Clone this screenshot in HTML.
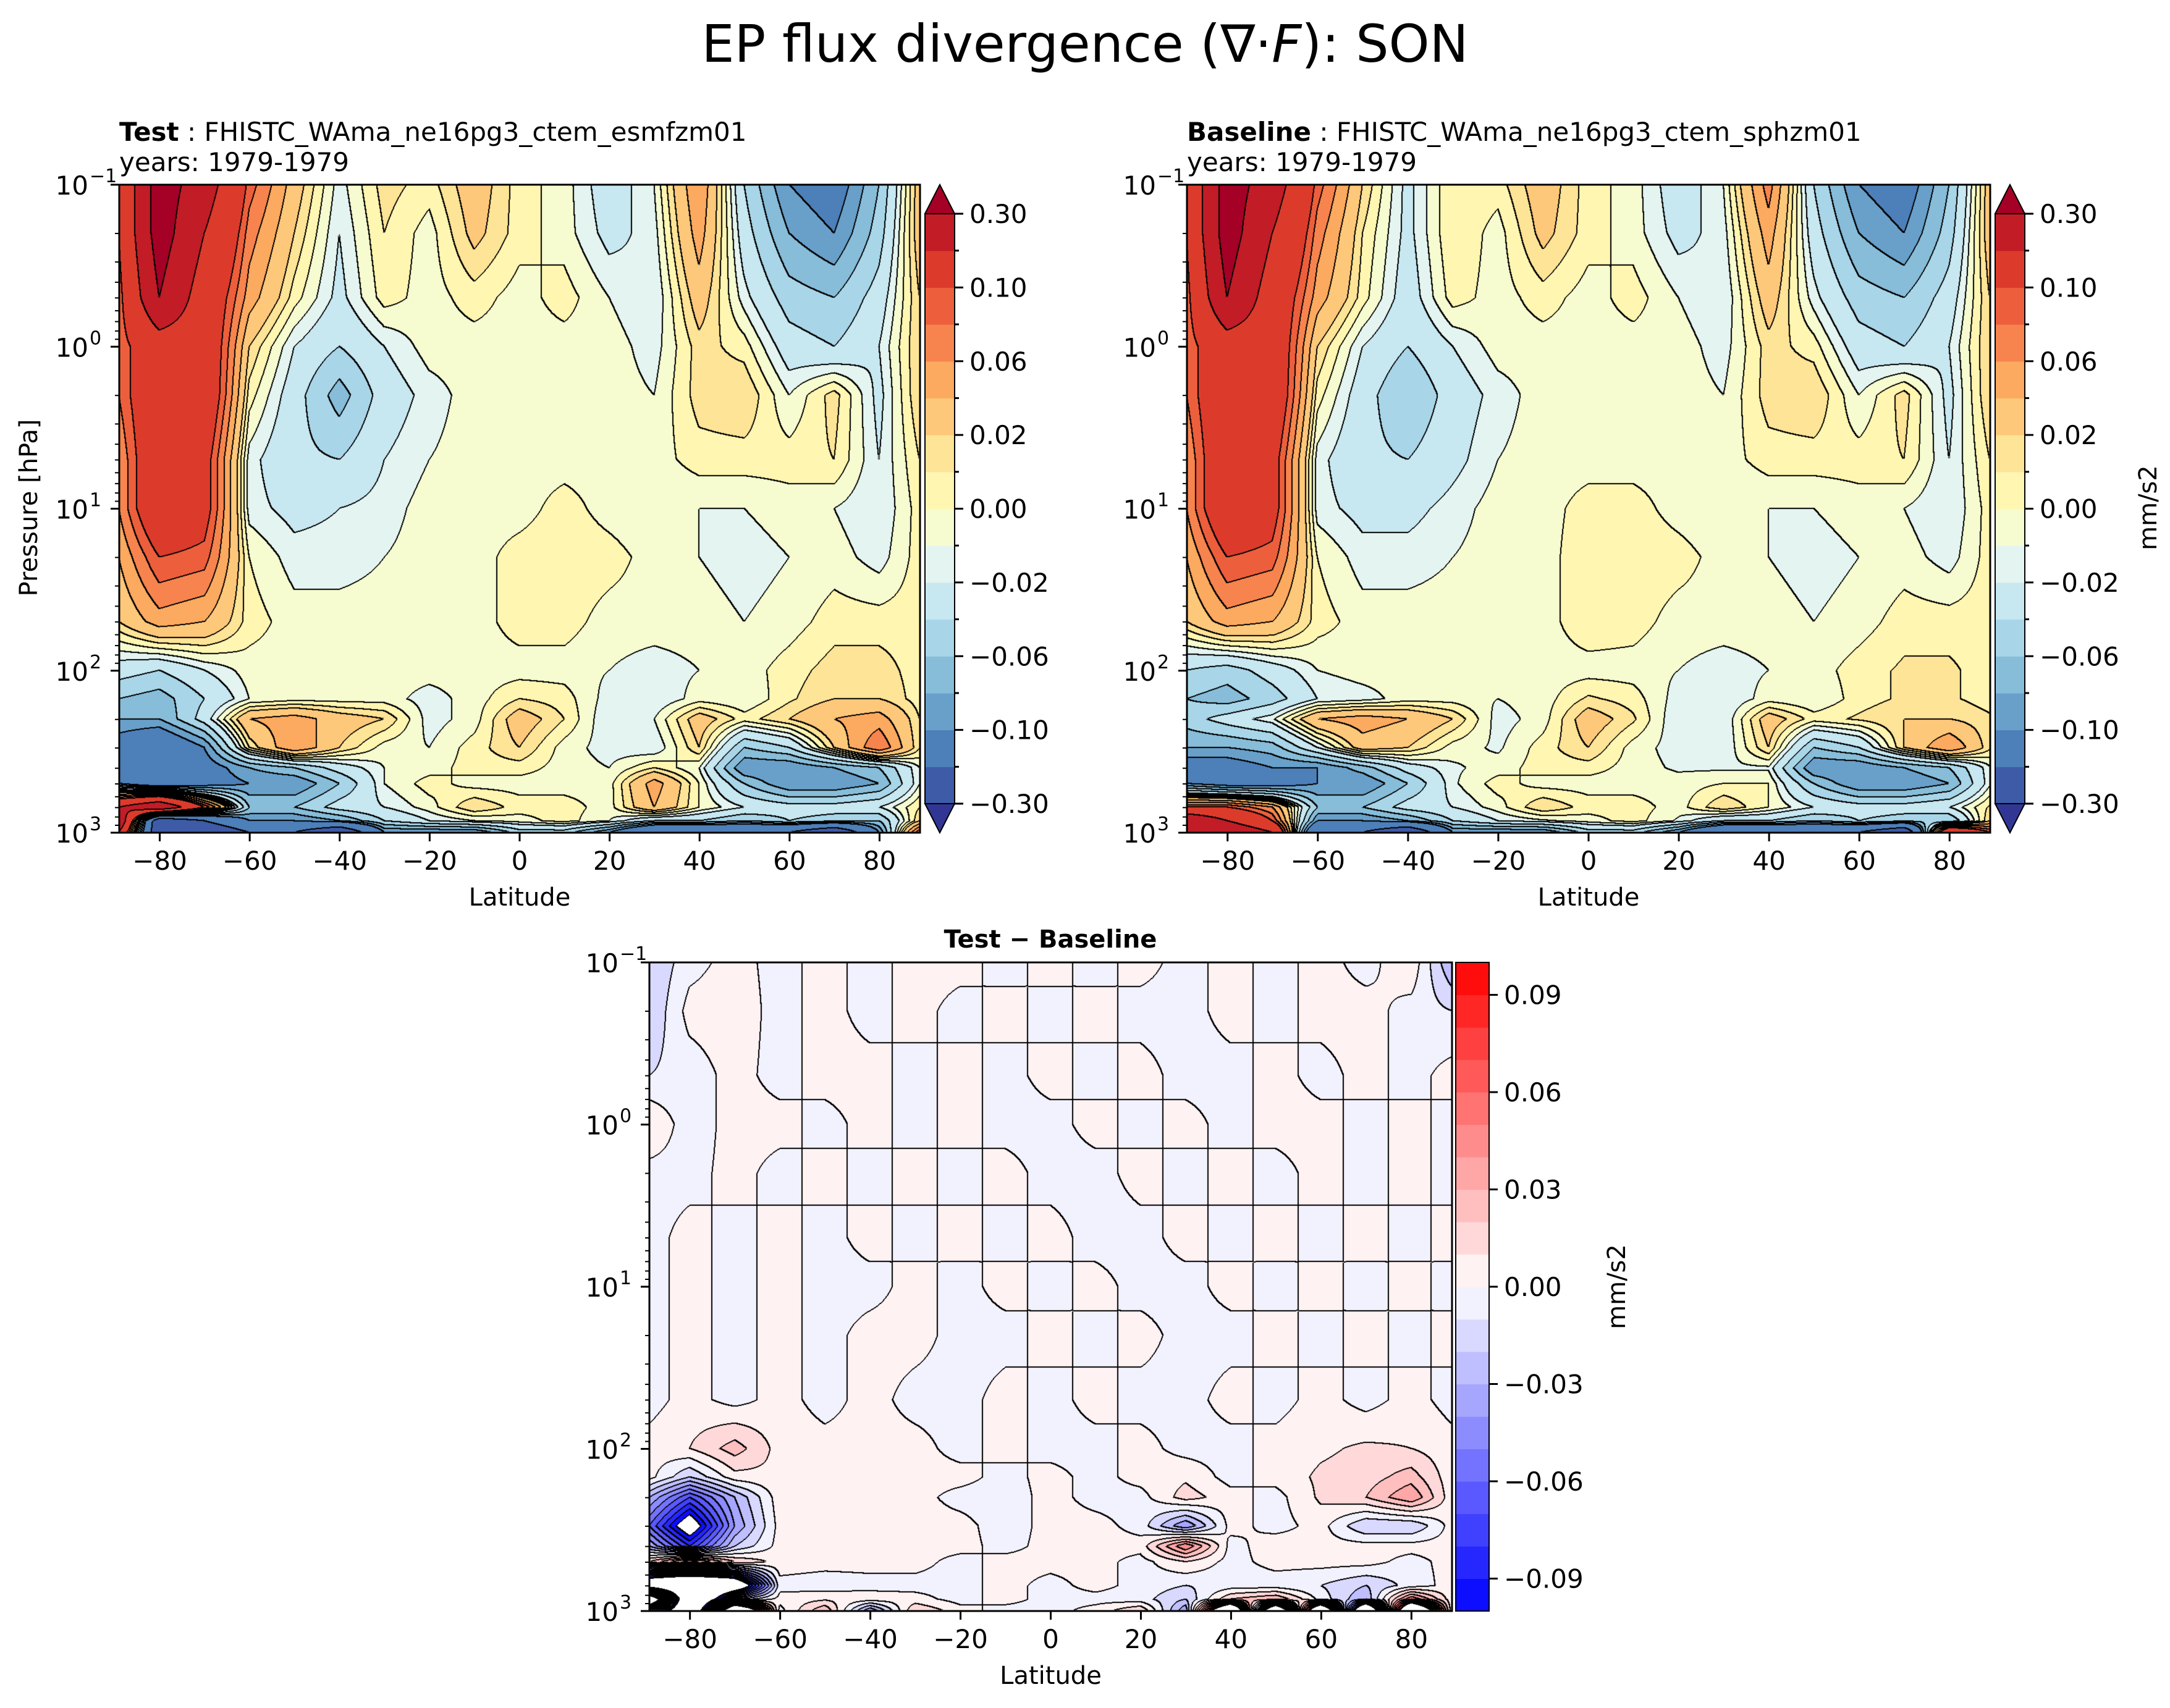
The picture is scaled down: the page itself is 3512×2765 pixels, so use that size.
<!DOCTYPE html>
<html><head><meta charset="utf-8">
<style>
html,body{margin:0;padding:0;background:#fff;}
#wrap{position:relative;width:3512px;height:2765px;overflow:hidden;font-family:"DejaVu Sans","Liberation Sans",sans-serif;}
canvas{position:absolute;}
svg{position:absolute;left:0;top:0;}
</style></head>
<body>
<div id="wrap">
<canvas id="cTest" style="left:193px;top:299px" width="1296" height="1049"></canvas>
<canvas id="cBase" style="left:1921px;top:299px" width="1300" height="1049"></canvas>
<canvas id="cDiff" style="left:1051px;top:1558px" width="1299" height="1050"></canvas>
<svg id="ov" width="3512" height="2765" font-family="DejaVu Sans, Liberation Sans, sans-serif">
<text x="1756" y="100" font-size="84" text-anchor="middle">EP flux divergence (∇·<tspan font-style="italic">F</tspan>): SON</text>
<text x="193" y="228" font-size="42"><tspan font-weight="bold">Test</tspan> : FHISTC_WAma_ne16pg3_ctem_esmfzm01</text>
<text x="193" y="277" font-size="42">years: 1979-1979</text>
<text x="1921" y="228" font-size="42"><tspan font-weight="bold">Baseline</tspan> : FHISTC_WAma_ne16pg3_ctem_sphzm01</text>
<text x="1921" y="277" font-size="42">years: 1979-1979</text>
<text x="1700" y="1534" font-size="40" font-weight="bold" text-anchor="middle">Test − Baseline</text>
<text transform="translate(60,822) rotate(-90)" font-size="40" text-anchor="middle">Pressure [hPa]</text>
<text transform="translate(3490,822) rotate(-90)" font-size="40" text-anchor="middle">mm/s2</text>
<text transform="translate(2630,2083) rotate(-90)" font-size="40" text-anchor="middle">mm/s2</text>
</svg>
</div>
<script>
// ---------------- data ----------------
const lats = [-89,-80,-70,-60,-50,-40,-30,-20,-10,0,10,20,30,40,50,60,70,80,89];
const pressures = [0.1,0.2,0.5,1,2,5,10,20,50,100,150,200,300,400,500,700,850,1000];
const levelsTop = [-0.3,-0.2,-0.1,-0.08,-0.06,-0.04,-0.02,-0.01,0,0.01,0.02,0.04,0.06,0.08,0.1,0.2,0.3];
const levelsDiff = [-0.1,-0.09,-0.08,-0.07,-0.06,-0.05,-0.04,-0.03,-0.02,-0.01,0,0.01,0.02,0.03,0.04,0.05,0.06,0.07,0.08,0.09,0.1];
const cbTopLabels = ["0.30","0.10","0.06","0.02","0.00","−0.02","−0.06","−0.10","−0.30"];
const cbDiffTicks = [0.09,0.06,0.03,0,-0.03,-0.06,-0.09];
const cbDiffLabels = ["0.09","0.06","0.03","0.00","−0.03","−0.06","−0.09"];
const latTicks = [-80,-60,-40,-20,0,20,40,60,80];

const testField = [
[0.1,0.35,0.25,0.09,0.03,-0.015,0.015,0.005,0.03,0.005,-0.005,-0.03,-0.01,0.06,-0.04,-0.1,-0.12,-0.06,0.03],
[0.1,0.35,0.2,0.07,0.02,-0.02,0.01,-0.005,0.025,0.005,-0.005,-0.025,-0.015,0.05,-0.03,-0.08,-0.1,-0.05,0.03],
[0.08,0.3,0.15,0.05,0.005,-0.025,0.005,-0.005,0.005,-0.005,0.005,-0.01,-0.02,0.03,-0.015,-0.05,-0.06,-0.03,0.02],
[0.08,0.15,0.15,0.02,-0.02,-0.04,-0.02,-0.005,-0.005,-0.005,-0.005,-0.005,-0.015,0.015,0.005,-0.03,-0.04,-0.02,0.02],
[0.08,0.15,0.15,0.005,-0.03,-0.07,-0.03,-0.015,-0.005,-0.005,-0.005,-0.005,-0.01,0.015,0.02,-0.01,0.015,-0.025,0.02],
[0.06,0.15,0.12,-0.015,-0.035,-0.04,-0.02,-0.01,-0.005,-0.005,-0.005,-0.005,-0.005,0.005,0.005,0.005,0.01,-0.02,0.01],
[0.06,0.15,0.12,-0.015,-0.025,-0.02,-0.015,-0.005,-0.005,-0.005,0.005,-0.005,-0.01,-0.01,-0.01,-0.005,-0.01,-0.02,0.005],
[0.04,0.1,0.09,0.0,-0.015,-0.015,-0.01,-0.005,-0.005,0.005,0.008,0.005,-0.005,-0.01,-0.015,-0.01,-0.005,-0.015,0.005],
[0.02,0.05,0.04,0.005,-0.005,-0.005,-0.005,-0.005,-0.005,0.005,0.005,-0.005,-0.005,-0.005,-0.01,-0.005,0.005,0.005,0.005],
[-0.03,-0.04,-0.02,-0.005,-0.005,-0.005,-0.005,-0.005,-0.005,-0.005,-0.005,-0.01,-0.015,-0.01,-0.005,0.005,0.015,0.015,0.005],
[-0.06,-0.07,-0.04,-0.01,-0.005,-0.005,-0.005,-0.015,-0.005,0.01,0.005,-0.015,-0.02,-0.005,-0.01,0.008,0.02,0.02,0.005],
[-0.08,-0.08,-0.03,0.04,0.05,0.03,0.02,-0.015,-0.005,0.03,0.01,-0.02,-0.01,0.03,0.005,0.02,0.04,0.05,0.01],
[-0.12,-0.15,-0.1,0.01,0.06,0.02,-0.005,-0.01,0.005,0.02,-0.005,-0.015,-0.02,0.02,-0.06,-0.04,0.02,0.08,0.01],
[-0.15,-0.2,-0.12,-0.08,-0.06,-0.03,-0.01,-0.005,0.005,0.005,-0.005,-0.01,0.01,-0.01,-0.1,-0.1,-0.08,-0.06,-0.01],
[-0.1,-0.15,-0.12,-0.1,-0.1,-0.06,-0.01,0.005,-0.005,-0.005,-0.005,-0.005,0.05,0.0,-0.06,-0.1,-0.1,-0.08,-0.01],
[0.2,0.3,0.1,-0.06,-0.06,-0.03,-0.02,-0.005,0.02,0.005,0.005,-0.005,0.04,0.0,-0.02,-0.03,-0.03,-0.02,0.01],
[0.3,-0.3,-0.2,-0.1,-0.1,-0.08,-0.04,-0.02,-0.01,-0.005,0.005,-0.01,-0.04,-0.04,-0.06,-0.04,-0.05,-0.06,0.02],
[0.2,-0.3,-0.3,-0.2,-0.2,-0.3,-0.1,-0.1,-0.1,-0.05,-0.05,-0.1,-0.2,-0.2,-0.2,-0.2,-0.3,-0.1,0.1]
];
const baseField = [
[0.1,0.35,0.25,0.09,0.02,-0.025,0.01,0.005,0.03,0.005,-0.005,-0.03,-0.01,0.07,-0.04,-0.1,-0.12,-0.06,0.03],
[0.1,0.35,0.2,0.07,0.01,-0.025,0.01,-0.005,0.025,0.005,-0.005,-0.025,-0.015,0.05,-0.03,-0.08,-0.1,-0.05,0.03],
[0.08,0.3,0.15,0.05,0.005,-0.03,0.005,-0.005,0.005,-0.005,0.005,-0.01,-0.02,0.03,-0.015,-0.05,-0.06,-0.03,0.02],
[0.08,0.15,0.15,0.02,-0.02,-0.04,-0.02,-0.005,-0.005,-0.005,-0.005,-0.005,-0.015,0.015,0.005,-0.03,-0.04,-0.02,0.02],
[0.08,0.15,0.15,0.005,-0.03,-0.06,-0.03,-0.015,-0.005,-0.005,-0.005,-0.005,-0.01,0.015,0.02,-0.01,0.015,-0.025,0.02],
[0.06,0.15,0.12,-0.015,-0.035,-0.04,-0.025,-0.01,-0.005,-0.005,-0.005,-0.005,-0.005,0.005,0.005,0.005,0.01,-0.02,0.01],
[0.06,0.15,0.12,-0.015,-0.025,-0.025,-0.015,-0.005,-0.005,0.005,0.005,-0.005,-0.01,-0.01,-0.01,-0.005,-0.01,-0.02,0.005],
[0.04,0.1,0.09,0.0,-0.015,-0.015,-0.01,-0.005,-0.005,0.008,0.008,0.005,-0.005,-0.01,-0.015,-0.01,-0.005,-0.015,0.005],
[0.02,0.05,0.04,0.005,-0.005,-0.005,-0.005,-0.005,-0.005,0.008,0.005,-0.005,-0.005,-0.005,-0.01,-0.005,0.005,0.005,0.005],
[-0.04,-0.05,-0.03,-0.01,-0.005,-0.005,-0.005,-0.005,-0.005,-0.005,-0.005,-0.01,-0.015,-0.01,-0.005,0.005,0.012,0.012,0.005],
[-0.06,-0.07,-0.05,-0.02,-0.015,-0.005,-0.005,-0.01,-0.005,0.012,0.005,-0.015,-0.02,-0.005,-0.01,0.005,0.012,0.012,0.005],
[-0.05,-0.03,-0.012,0.04,0.05,0.04,0.02,-0.015,-0.005,0.03,0.012,-0.02,-0.02,0.03,0.005,0.012,0.02,0.02,0.012],
[-0.08,-0.08,-0.07,-0.02,0.03,0.02,-0.005,-0.012,0.005,0.02,-0.005,-0.015,-0.02,0.02,-0.06,-0.04,0.02,0.06,0.012],
[-0.12,-0.12,-0.1,-0.1,-0.07,-0.03,-0.012,-0.005,0.005,0.005,-0.005,-0.012,-0.012,-0.012,-0.1,-0.1,-0.08,-0.06,-0.012],
[-0.1,-0.12,-0.12,-0.1,-0.1,-0.06,-0.012,0.005,-0.005,-0.005,-0.005,-0.005,0.0,0.0,-0.06,-0.1,-0.1,-0.08,-0.012],
[0.1,0.1,0.06,-0.06,-0.06,-0.03,-0.02,-0.005,0.02,0.005,0.005,-0.005,0.02,0.0,-0.02,-0.03,-0.03,-0.02,0.012],
[0.3,0.2,0.1,-0.1,-0.1,-0.08,-0.04,-0.02,-0.012,-0.005,0.005,-0.012,-0.04,-0.04,-0.06,-0.04,-0.05,-0.06,0.02],
[0.2,0.3,0.2,-0.2,-0.2,-0.3,-0.1,-0.1,-0.1,-0.05,-0.05,-0.1,-0.2,-0.2,-0.2,-0.2,-0.3,0.2,0.1]
];
const diffField = [
[-0.02,-0.004,0.004,-0.004,0.004,-0.004,0.004,0.004,-0.004,0.004,-0.004,0.004,-0.004,0.004,-0.004,0.004,-0.004,0.008,-0.03],
[-0.02,0.004,0.006,-0.004,0.004,-0.004,0.004,-0.004,0.004,-0.004,0.004,-0.004,-0.004,0.004,-0.004,0.004,0.004,-0.004,-0.01],
[-0.01,-0.006,0.004,-0.004,0.004,0.004,-0.004,0.004,-0.004,0.004,-0.004,0.004,-0.004,-0.004,0.004,-0.004,0.004,-0.004,0.004],
[0.01,-0.006,0.004,0.004,-0.004,0.004,-0.004,0.004,-0.004,-0.004,0.004,-0.004,0.004,-0.004,0.004,0.004,-0.004,0.004,-0.004],
[-0.004,-0.004,0.004,-0.004,0.004,-0.004,0.004,-0.004,0.004,-0.004,-0.004,0.004,-0.004,0.004,-0.004,0.004,-0.004,0.004,-0.004],
[-0.004,0.004,-0.004,0.004,-0.004,0.004,-0.004,0.004,-0.004,0.004,-0.004,-0.004,0.004,-0.004,0.004,-0.004,0.004,-0.004,0.004],
[-0.004,0.004,-0.004,0.004,-0.004,-0.004,0.004,-0.004,0.004,-0.004,0.004,-0.004,-0.004,0.004,-0.004,0.004,-0.004,0.004,-0.004],
[-0.004,0.004,-0.004,0.004,-0.004,0.004,0.004,-0.004,-0.004,0.004,-0.004,0.004,-0.004,-0.004,0.004,-0.004,0.004,-0.004,0.004],
[-0.004,0.004,-0.004,0.004,-0.004,0.004,-0.004,-0.004,0.004,-0.004,0.004,-0.004,-0.004,0.004,-0.004,0.004,-0.004,0.004,-0.004],
[0.004,0.01,0.025,0.006,0.004,0.004,0.004,-0.004,0.004,-0.004,-0.004,0.004,-0.004,-0.004,0.004,0.008,0.012,0.01,0.004],
[0.004,-0.02,0.006,0.008,0.006,0.004,0.004,0.004,-0.004,0.004,-0.004,0.004,0.008,-0.004,0.004,0.012,0.015,0.025,0.004],
[-0.03,-0.07,-0.03,0.006,0.01,0.006,0.004,-0.004,-0.006,0.004,-0.004,-0.004,0.015,0.004,-0.004,0.012,0.02,0.04,0.004],
[-0.06,-0.12,-0.04,0.004,0.006,0.004,0.004,0.004,-0.006,0.004,0.004,-0.004,-0.04,0.004,-0.004,0.004,-0.02,-0.02,0.004],
[-0.03,-0.08,-0.02,0.004,0.004,0.004,0.004,0.004,-0.004,0.004,0.004,0.004,0.05,-0.004,0.006,0.004,0.004,0.004,0.004],
[0.02,0.06,0.02,0.006,0.004,0.004,0.004,-0.004,0.004,0.004,0.004,-0.004,0.01,-0.004,0.004,0.004,0.004,-0.004,0.004],
[-0.15,-0.2,-0.15,-0.004,-0.006,-0.004,-0.004,-0.004,0.004,-0.004,0.004,-0.004,-0.01,-0.006,-0.006,-0.01,-0.02,-0.006,0.004],
[0.2,-0.2,-0.02,0.004,0.008,0.006,0.004,-0.004,0.004,-0.004,-0.004,-0.006,-0.02,0.02,0.03,-0.004,-0.03,0.05,0.004],
[0.004,-0.2,0.2,-0.004,0.03,-0.04,0.02,0.004,-0.004,-0.004,0.004,0.02,-0.04,0.2,-0.2,0.2,-0.2,0.2,0.004]
];

// ---------------- colour maps ----------------
function hex(h){return [parseInt(h.substr(1,2),16),parseInt(h.substr(3,2),16),parseInt(h.substr(5,2),16)];}
const rdylbuR = ['#313695','#4575b4','#74add1','#abd9e9','#e0f3f8','#ffffbf','#fee090','#fdae61','#f46d43','#d73027','#a50026'].map(hex);
function sampleRdYlBu(t){
  const s=t*(rdylbuR.length-1); const i=Math.min(Math.floor(s),rdylbuR.length-2); const f=s-i;
  return rdylbuR[i].map((c,k)=>Math.round(c+(rdylbuR[i+1][k]-c)*f));
}
function bwr(t){
  if(t<0.5){const f=t/0.5;return [Math.round(255*f),Math.round(255*f),255];}
  const f=(t-0.5)/0.5;return [255,Math.round(255*(1-f)),Math.round(255*(1-f))];
}
const topColors=[];
for(let i=0;i<18;i++) topColors.push(sampleRdYlBu(i/17));
const diffColors=[]; for(let i=0;i<20;i++) diffColors.push(bwr((i+0.5)/20));

// ---------------- field rendering ----------------
const lp = pressures.map(p=>Math.log10(p));
function interp(field, lat, l){
  let i=0; while(i<lats.length-2 && lat>lats[i+1]) i++;
  let j=0; while(j<lp.length-2 && l>lp[j+1]) j++;
  let fx=(lat-lats[i])/(lats[i+1]-lats[i]); fx=Math.max(0,Math.min(1,fx));
  let fy=(l-lp[j])/(lp[j+1]-lp[j]); fy=Math.max(0,Math.min(1,fy));
  const a=field[j][i],b=field[j][i+1],c=field[j+1][i],d=field[j+1][i+1];
  return (a*(1-fx)+b*fx)*(1-fy)+(c*(1-fx)+d*fx)*fy;
}
function binOf(v,levels){
  v+=1e-7;
  if(v<levels[0]) return -1;
  for(let k=0;k<levels.length-1;k++){ if(v<levels[k+1]) return k; }
  return levels.length-1;
}
function render(id, field, levels, isDiff){
  const cv=document.getElementById(id); const w=cv.width,h=cv.height;
  const ctx=cv.getContext('2d'); const img=ctx.createImageData(w,h);
  const idx=new Int16Array(w*h);
  for(let y=0;y<h;y++){
    const l=-1+4*(y+0.5)/h;
    for(let x=0;x<w;x++){
      const lat=-89+178*(x+0.5)/w;
      idx[y*w+x]=binOf(interp(field,lat,l),levels);
    }
  }
  const nb=levels.length-1;
  for(let y=0;y<h;y++){
    for(let x=0;x<w;x++){
      const p=y*w+x; const k=idx[p]; let col;
      if(isDiff){ col=(k<0||k>=nb)?[255,255,255]:diffColors[k]; }
      else { col=topColors[k+1]; }
      const r=x+2<w?idx[p+2]:k, d=y+2<h?idx[p+2*w]:k;
      if(r!==k||d!==k) col=[0,0,0];
      img.data[p*4]=col[0];img.data[p*4+1]=col[1];img.data[p*4+2]=col[2];img.data[p*4+3]=255;
    }
  }
  ctx.putImageData(img,0,0);
}
render('cTest',testField,levelsTop,false);
render('cBase',baseField,levelsTop,false);
render('cDiff',diffField,levelsDiff,true);

// ---------------- axes / ticks ----------------
const NS='http://www.w3.org/2000/svg';
const ov=document.getElementById('ov');
function mk(tag,attrs){const e=document.createElementNS(NS,tag);for(const k in attrs)e.setAttribute(k,attrs[k]);ov.appendChild(e);return e;}
function axes(L,T,W,H,prefix){
  const frame=mk('rect',{x:L,y:T,width:W,height:H,fill:'none',stroke:'#000','stroke-width':3});
  
  
  latTicks.forEach(v=>{
    const x=L+(v+89)/178*W;
    const t=mk('line',{x1:x,y1:T+H,x2:x,y2:T+H+14,stroke:'#000','stroke-width':3});
    
    
    const tx=mk('text',{x:x,y:T+H+60,'font-size':42,'text-anchor':'middle'});
    tx.textContent=(v<0?'−':'')+Math.abs(v);
    
    
  });
  const xl=mk('text',{x:L+W/2,y:T+H+118,'font-size':40,'text-anchor':'middle'});
  xl.textContent='Latitude';
  
  
  for(let e=-1;e<=3;e++){
    const y=T+(e+1)/4*H;
    const t=mk('line',{x1:L-14,y1:y,x2:L,y2:y,stroke:'#000','stroke-width':3});
    
    
    const tx=mk('text',{x:L-50,y:y+16,'font-size':42,'text-anchor':'end'});
    tx.textContent='10';
    
    
    const sup=mk('text',{x:L-48,y:y-4,'font-size':30,'text-anchor':'start'});
    sup.textContent=e<0?'−1':String(e);
    
    
    if(e<3){for(let m=2;m<=9;m++){
      const ym=T+(e+1+Math.log10(m))/4*H;
      const mt=mk('line',{x1:L-7,y1:ym,x2:L,y2:ym,stroke:'#000','stroke-width':2});
      
      
    }}
  }
}
axes(193,299,1296,1049,'test');
axes(1921,299,1300,1049,'baseline');
axes(1051,1558,1299,1050,'diff');

function topColorbar(X,prefix){
  const T=299,B=1348,W=48,tri=47; const y0=T+tri,y1=B-tri; const n=16; const bh=(y1-y0)/n;
  for(let k=0;k<n;k++){
    const c=topColors[k+1];
    const r=mk('rect',{x:X,y:y1-(k+1)*bh,width:W,height:bh+0.6,fill:'rgb('+c.join(',')+')'});
    
    
  }
  const up=mk('polygon',{points:X+','+y0+' '+(X+W/2)+','+T+' '+(X+W)+','+y0,fill:'rgb('+topColors[17].join(',')+')',stroke:'#000','stroke-width':2});
  
  
  const dn=mk('polygon',{points:X+','+y1+' '+(X+W/2)+','+B+' '+(X+W)+','+y1,fill:'rgb('+topColors[0].join(',')+')',stroke:'#000','stroke-width':2});
  
  
  const fr=mk('rect',{x:X,y:y0,width:W,height:y1-y0,fill:'none',stroke:'#000','stroke-width':2});
  
  
  for(let k=0;k<=n;k++){
    const y=y0+k*bh; const major=k%2===0;
    const t=mk('line',{x1:X+W,y1:y,x2:X+W+(major?14:7),y2:y,stroke:'#000','stroke-width':3});
    
    
    if(major){
      const tx=mk('text',{x:X+W+24,y:y+15,'font-size':42});
      tx.textContent=cbTopLabels[k/2];
      
      
    }
  }
}
topColorbar(1497,'test');
topColorbar(3229,'baseline');

(function(){
  const X=2356,T=1558,H=1050,W=54; const n=20; const bh=H/n;
  for(let k=0;k<n;k++){
    const c=diffColors[k];
    const r=mk('rect',{x:X,y:T+H-(k+1)*bh,width:W,height:bh+0.6,fill:'rgb('+c.join(',')+')'});
    
    
  }
  const fr=mk('rect',{x:X,y:T,width:W,height:H,fill:'none',stroke:'#000','stroke-width':2});
  
  
  cbDiffTicks.forEach((v,i)=>{
    const y=T+(0.1-v)/0.2*H;
    const t=mk('line',{x1:X+W,y1:y,x2:X+W+14,y2:y,stroke:'#000','stroke-width':3});
    
    
    const tx=mk('text',{x:X+W+24,y:y+15,'font-size':42});
    tx.textContent=cbDiffLabels[i];
    
    
  });
})();
</script>
</body></html>
